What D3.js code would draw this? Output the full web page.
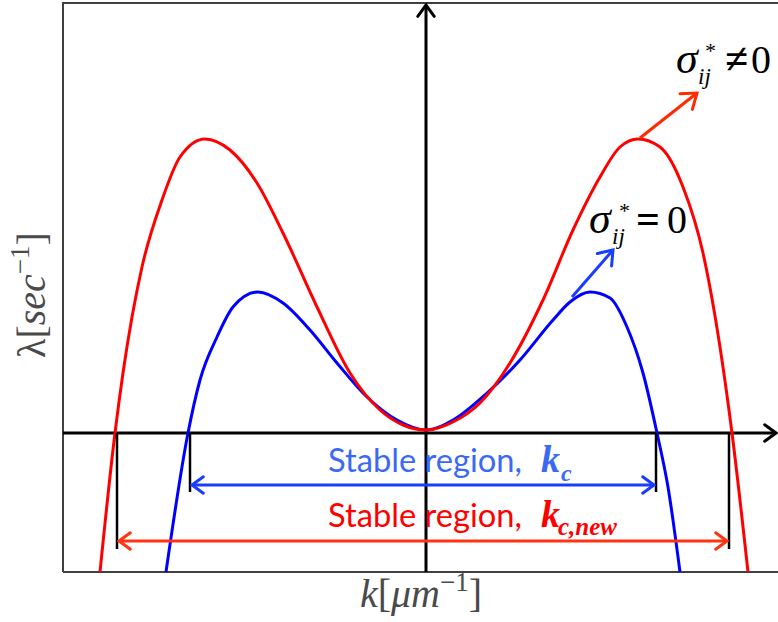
<!DOCTYPE html>
<html>
<head>
<meta charset="utf-8">
<script src="https://cdn.jsdelivr.net/npm/d3@7"></script>
<style>
  html, body { margin: 0; padding: 0; background: #fff; }
  svg { display: block; }
</style>
</head>
<body>
<script>
// Growth rate λ(k) with and without residual stress
const redK = [-3.26, -3.11, -3.03, -2.84, -2.64, -2.46, -2.21, -1.96, -1.69, -1.43, -1.09, -0.76, -0.46, -0.23, 0,
              0.27, 0.54, 0.84, 1.17, 1.47, 1.74, 1.94, 2.12, 2.34, 2.57, 2.77, 2.94, 3.06, 3.22];
const redLambda = [-1.39, 0, 0.60, 1.66, 2.33, 2.76, 2.94, 2.83, 2.50, 2.00, 1.26, 0.60, 0.23, 0.08, 0.03,
                   0.11, 0.30, 0.70, 1.33, 2.03, 2.56, 2.86, 2.94, 2.86, 2.46, 1.80, 0.86, 0, -1.39];

const blueK = [-2.60, -2.38, -2.26, -2.09, -1.93, -1.68, -1.43, -1.16, -0.89, -0.59, -0.29, 0,
               0.27, 0.61, 0.94, 1.27, 1.44, 1.64, 1.84, 2.01, 2.17, 2.31, 2.42, 2.54];
const blueLambda = [-1.39, 0, 0.53, 0.96, 1.26, 1.41, 1.30, 1.03, 0.70, 0.36, 0.13, 0.03,
                    0.13, 0.40, 0.73, 1.13, 1.31, 1.41, 1.35, 1.06, 0.60, 0, -0.54, -1.39];

// Critical wavenumbers bounding the stable regions
const kcBlue = [-2.36, 2.30];
const kcRed = [-3.09, 3.03];

const W = 778, H = 622;
const svg = d3.select("body").append("svg").attr("width", W).attr("height", H);

const x = d3.scaleLinear().domain([-3.63, 3.52]).range([63, 778]);
const y = d3.scaleLinear().domain([-1.39, 4.30]).range([572, 3]);

svg.append("defs").append("clipPath").attr("id", "plot")
  .append("rect").attr("x", 63).attr("y", 3).attr("width", 715).attr("height", 569);

// frame
svg.append("path").attr("d", "M63,572 V3 H778").attr("fill", "none")
  .attr("stroke", "#404040").attr("stroke-width", 2);
svg.append("line").attr("x1", 63).attr("x2", 778).attr("y1", 572).attr("y2", 572)
  .attr("stroke", "#404040").attr("stroke-width", 2);

function arrow(g, x1, y1, x2, y2, color, width, len, both) {
  g.append("line").attr("x1", x1).attr("y1", y1).attr("x2", x2).attr("y2", y2)
    .attr("stroke", color).attr("stroke-width", width);
  const head = (tx, ty, fx, fy) => {
    const a = Math.atan2(ty - fy, tx - fx), t = Math.PI / 5;
    const p1 = [tx - len * Math.cos(a - t), ty - len * Math.sin(a - t)];
    const p2 = [tx - len * Math.cos(a + t), ty - len * Math.sin(a + t)];
    g.append("path").attr("d", `M${p1[0]},${p1[1]} L${tx},${ty} L${p2[0]},${p2[1]}`)
      .attr("fill", "none").attr("stroke", color).attr("stroke-width", width)
      .attr("stroke-linecap", "round").attr("stroke-linejoin", "miter");
  };
  head(x2, y2, x1, y1);
  if (both) head(x1, y1, x2, y2);
}

// axes
const axes = svg.append("g");
arrow(axes, 63, y(0), 776, y(0), "#000", 3, 14, false);
arrow(axes, x(0), 572, x(0), 5, "#000", 3, 14, false);

// curves
const line = d3.line().x(d => x(d[0])).y(d => y(d[1])).curve(d3.curveMonotoneX);
const curves = svg.append("g").attr("clip-path", "url(#plot)");
curves.append("path").datum(d3.zip(blueK, blueLambda)).attr("d", line)
  .attr("fill", "none").attr("stroke", "#0000ff").attr("stroke-width", 3);
curves.append("path").datum(d3.zip(redK, redLambda)).attr("d", line)
  .attr("fill", "none").attr("stroke", "#ff0000").attr("stroke-width", 3);

// stable region markers and arrows
const ann = svg.append("g");
const blueMarkEnd = -0.59, redMarkEnd = -1.16;
kcBlue.forEach(k => ann.append("line").attr("x1", x(k)).attr("x2", x(k))
  .attr("y1", y(0)).attr("y2", y(blueMarkEnd)).attr("stroke", "#000").attr("stroke-width", 2.5));
kcRed.forEach(k => ann.append("line").attr("x1", x(k)).attr("x2", x(k))
  .attr("y1", y(0)).attr("y2", y(redMarkEnd)).attr("stroke", "#000").attr("stroke-width", 2.5));
arrow(ann, x(kcBlue[0]) + 2, y(-0.52), x(kcBlue[1]) - 2, y(-0.52), "#1a3cff", 3, 14, true);
arrow(ann, x(kcRed[0]) + 2, y(-1.08), x(kcRed[1]) - 2, y(-1.08), "#ff3311", 3, 14, true);

// stable region labels
function fitWidth(t, target) {
  const w = t.node().getComputedTextLength();
  const fs = parseFloat(t.attr("font-size"));
  t.attr("font-size", fs * target / w);
}
const sans = "Lato, 'Open Sans', sans-serif";
const serif = "Liberation Serif";

const tb = ann.append("text").attr("x", 328).attr("y", 472).attr("font-family", sans)
  .attr("font-size", 33).attr("fill", "#3a6af5").text("Stable region,");
fitWidth(tb, 194);
ann.append("text").attr("x", 541).attr("y", 472).attr("font-family", serif)
  .attr("font-style", "italic").attr("font-weight", "bold").attr("font-size", 38)
  .attr("fill", "#3a6af5").text("k");
ann.append("text").attr("x", 561).attr("y", 481).attr("font-family", serif)
  .attr("font-style", "italic").attr("font-weight", "bold").attr("font-size", 24)
  .attr("fill", "#3a6af5").text("c");

const tr = ann.append("text").attr("x", 328).attr("y", 527).attr("font-family", sans)
  .attr("font-size", 33).attr("fill", "#ff0000").text("Stable region,");
fitWidth(tr, 194);
ann.append("text").attr("x", 541).attr("y", 527).attr("font-family", serif)
  .attr("font-style", "italic").attr("font-weight", "bold").attr("font-size", 38)
  .attr("fill", "#ff0000").text("k");
ann.append("text").attr("x", 558).attr("y", 535).attr("font-family", serif)
  .attr("font-style", "italic").attr("font-weight", "bold").attr("font-size", 25)
  .attr("fill", "#ff0000").text("c,new");

// stress labels with pointer arrows
arrow(ann, 640, 138, 697, 93, "#ff2a00", 3, 17, false);
arrow(ann, 572, 297, 613, 250, "#1a3cff", 3, 16, false);

function sigmaLabel(sx, by, rel, relX, relSize, zeroX, subDx, supDx) {
  const g = svg.append("g").attr("font-family", serif).attr("fill", "#000");
  g.append("text").attr("x", sx).attr("y", by).attr("font-size", 44).attr("font-style", "italic").text("σ");
  g.append("text").attr("x", sx + supDx).attr("y", by - 15).attr("font-size", 22).text("*");
  g.append("text").attr("x", sx + subDx).attr("y", by + 11).attr("font-size", 23).attr("font-style", "italic").text("ij");
  g.append("text").attr("x", relX).attr("y", by).attr("font-size", relSize).attr("font-weight", "bold").text(rel);
  g.append("text").attr("x", zeroX).attr("y", by).attr("font-size", 40).text("0");
}
sigmaLabel(676, 73, "≠", 725, 42, 751, 22, 29);
sigmaLabel(589, 233, "=", 636, 42, 667, 23, 30);

// axis titles
const lbl = svg.append("g").attr("font-family", serif).attr("fill", "#4a4a4a");
const xt = lbl.append("text").attr("x", 421).attr("y", 607).attr("text-anchor", "middle").attr("font-size", 40);
xt.append("tspan").attr("font-style", "italic").text("k");
xt.append("tspan").text("[");
xt.append("tspan").attr("font-style", "italic").text("μm");
xt.append("tspan").attr("font-size", 27).attr("dy", -16).text("−1");
xt.append("tspan").attr("dy", 16).text("]");

const yt = lbl.append("text").attr("transform", "translate(45,295) rotate(-90)")
  .attr("text-anchor", "middle").attr("font-size", 40);
yt.append("tspan").text("λ");
yt.append("tspan").text("[");
yt.append("tspan").attr("font-style", "italic").text("sec");
yt.append("tspan").attr("font-size", 27).attr("dy", -16).text("−1");
yt.append("tspan").attr("dy", 16).text("]");
</script>
</body>
</html>
